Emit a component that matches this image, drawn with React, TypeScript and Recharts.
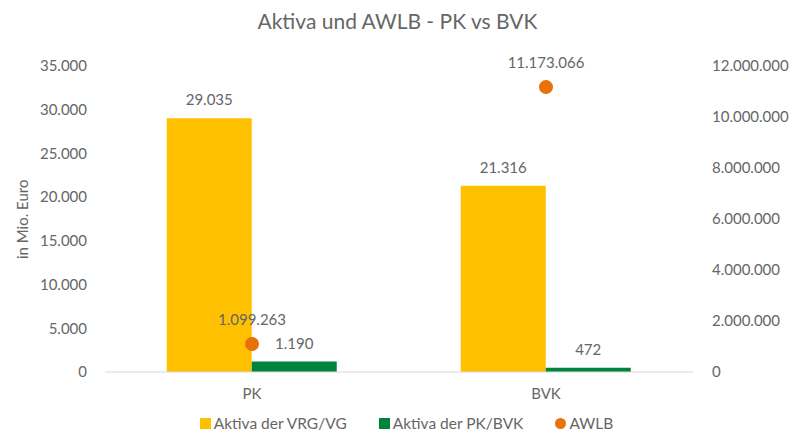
import React from "react";
import {
  ComposedChart,
  Bar,
  Line,
  XAxis,
  YAxis,
  Legend,
  LabelList,
} from "recharts";

const categories = ["PK", "BVK"];
const aktivaVrg = [29035, 21316];
const aktivaPk = [1190, 472];
const awlb = [1099263, 11173066];
const leftTicks = [0, 5000, 10000, 15000, 20000, 25000, 30000, 35000];
const rightTicks = [0, 2000000, 4000000, 6000000, 8000000, 10000000, 12000000];

const data = categories.map((c, i) => ({
  name: c,
  vrg: aktivaVrg[i],
  pk: aktivaPk[i],
  awlb: awlb[i],
}));

const FONT = "Lato, 'Open Sans', sans-serif";
const TEXT = "#666666";
const ORANGE = "#FFC000";
const GREEN = "#00843D";
const DOT = "#E8710A";

const legendItems = [
  { label: "Aktiva der VRG/VG", color: ORANGE, round: false },
  { label: "Aktiva der PK/BVK", color: GREEN, round: false },
  { label: "AWLB", color: DOT, round: true },
];

// german thousands separator
function fmt(v: any): string {
  const n = Math.round(Number(v ?? 0));
  return String(n).replace(/\B(?=(\d{3})+(?!\d))/g, ".");
}

function ChartLegend() {
  return (
    <div
      style={{
        display: "flex",
        justifyContent: "center",
        gap: 32,
        fontSize: 15.5,
        fontFamily: FONT,
        color: TEXT,
        lineHeight: "18px",
        transform: "translateY(10px)",
      }}
    >
      {legendItems.map((it) => (
        <span key={it.label} style={{ display: "flex", alignItems: "center" }}>
          <span
            style={{
              display: "inline-block",
              width: 11,
              height: 11,
              marginRight: 3,
              background: it.color,
              borderRadius: it.round ? "50%" : 0,
            }}
          />
          {it.label}
        </span>
      ))}
    </div>
  );
}

export default function App() {
  return (
    <div
      style={{
        position: "absolute",
        left: 0,
        top: 0,
        width: 795,
        height: 434,
        background: "#fff",
        fontFamily: FONT,
      }}
    >
      <div
        style={{
          position: "absolute",
          top: 8,
          width: 795,
          textAlign: "center",
          fontSize: 21,
          color: TEXT,
        }}
      >
        Aktiva und AWLB - PK vs BVK
      </div>
      <ComposedChart
        width={795}
        height={434}
        data={data}
        margin={{ top: 66, right: 12, bottom: 8, left: 30 }}
        barGap={0}
        barCategoryGap="21%"
      >
        <XAxis
          dataKey="name"
          tickLine={false}
          axisLine={{ stroke: "#d9d9d9" }}
          tick={{ fill: TEXT, fontSize: 15, fontFamily: FONT }}
          tickMargin={10}
          height={32}
        />
        <YAxis
          yAxisId="left"
          domain={[0, 35000]}
          ticks={leftTicks}
          tickFormatter={fmt}
          axisLine={false}
          tickLine={false}
          tickSize={0}
          tickMargin={18}
          width={75}
          tick={{ fill: TEXT, fontSize: 15, fontFamily: FONT }}
          label={{
            value: "in Mio. Euro",
            angle: -90,
            position: "insideLeft",
            dx: -12,
            dy: 40,
            fill: TEXT,
            fontSize: 15,
            fontFamily: FONT,
          }}
        />
        <YAxis
          yAxisId="right"
          orientation="right"
          domain={[0, 12000000]}
          ticks={rightTicks}
          tickFormatter={fmt}
          axisLine={false}
          tickLine={false}
          tickSize={0}
          tickMargin={19}
          width={90}
          tick={{ fill: TEXT, fontSize: 15, fontFamily: FONT, textAnchor: "start" }}
        />
        <Legend
          verticalAlign="bottom"
          height={22}
          content={() => <ChartLegend />}
        />
        <Bar
          yAxisId="left"
          dataKey="vrg"
          name="Aktiva der VRG/VG"
          fill={ORANGE}
          isAnimationActive={false}
        >
          <LabelList
            dataKey="vrg"
            position="top"
            offset={13}
            formatter={fmt}
            fill={TEXT}
            fontSize={15}
            fontFamily={FONT}
          />
        </Bar>
        <Bar
          yAxisId="left"
          dataKey="pk"
          name="Aktiva der PK/BVK"
          fill={GREEN}
          isAnimationActive={false}
        >
          <LabelList
            dataKey="pk"
            position="top"
            offset={13}
            formatter={fmt}
            fill={TEXT}
            fontSize={15}
            fontFamily={FONT}
          />
        </Bar>
        <Line
          yAxisId="right"
          dataKey="awlb"
          name="AWLB"
          stroke="none"
          dot={{ r: 7, fill: DOT, stroke: "none" }}
          activeDot={false}
          isAnimationActive={false}
        >
          <LabelList
            dataKey="awlb"
            position="top"
            offset={19}
            formatter={fmt}
            fill={TEXT}
            fontSize={15}
            fontFamily={FONT}
          />
        </Line>
      </ComposedChart>
    </div>
  );
}
